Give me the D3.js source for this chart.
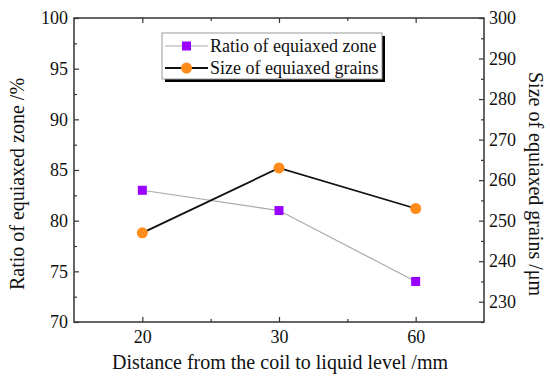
<!DOCTYPE html>
<html>
<head>
<meta charset="utf-8">
<script src="https://cdn.jsdelivr.net/npm/d3@7"></script>
<style>
  body { margin: 0; background: #fff; }
</style>
</head>
<body>
<svg id="chart"></svg>
<script>
// data
const distances = ["20", "30", "60"];
const ratioZone = [83, 81, 74];          // left axis, %
const grainSize = [247, 263, 253];       // right axis, um
const leftTicks = [70, 75, 80, 85, 90, 95, 100];
const rightTicks = [230, 240, 250, 260, 270, 280, 290, 300];

const width = 550, height = 379;
const plotL = 74, plotR = 484, plotT = 18, plotB = 322;
const serif = "'Times New Roman', 'Liberation Serif', Tinos, 'DejaVu Serif', serif";

const svg = d3.select("#chart").attr("width", width).attr("height", height);

const x = d3.scaleLinear().domain([0.5, 3.5]).range([plotL, plotR]);
const yL = d3.scaleLinear().domain([70, 100]).range([plotB, plotT]);
const yR = d3.scaleLinear().domain([225, 300]).range([plotB, plotT]);

const axisColor = "#333";

// frame
svg.append("rect")
  .attr("x", plotL).attr("y", plotT)
  .attr("width", plotR - plotL).attr("height", plotB - plotT)
  .attr("fill", "none").attr("stroke", axisColor).attr("stroke-width", 1.5);

// left axis (ticks inward)
const gL = svg.append("g").attr("transform", `translate(${plotL},0)`);
gL.call(d3.axisLeft(yL).tickValues(d3.range(70, 100.1, 2.5)).tickSize(-5).tickPadding(6)
  .tickFormat(d => leftTicks.includes(d) ? d : ""));
gL.selectAll(".tick line").attr("x2", d => leftTicks.includes(d) ? 5 : 3);

// right axis
const gR = svg.append("g").attr("transform", `translate(${plotR},0)`);
gR.call(d3.axisRight(yR).tickValues(d3.range(225, 300.1, 5)).tickSize(-5).tickPadding(5)
  .tickFormat(d => rightTicks.includes(d) ? d : ""));
gR.selectAll(".tick line").attr("x2", d => rightTicks.includes(d) ? -5 : -3);

// bottom axis
const xTicks = [1, 1.5, 2, 2.5, 3];
const gB = svg.append("g").attr("transform", `translate(0,${plotB})`);
gB.call(d3.axisBottom(x).tickValues(xTicks).tickSize(-5).tickPadding(8)
  .tickFormat(d => Number.isInteger(d) ? distances[d - 1] : ""));
gB.selectAll(".tick line").attr("y2", d => Number.isInteger(d) ? -5 : -3);

// top axis, ticks only
const gT = svg.append("g").attr("transform", `translate(0,${plotT})`);
gT.call(d3.axisTop(x).tickValues(xTicks).tickSize(-5).tickFormat(""));
gT.selectAll(".tick line").attr("y2", d => Number.isInteger(d) ? 5 : 3);

[gL, gR, gB, gT].forEach(g => {
  g.attr("font-family", serif).attr("font-size", 18);
  g.select(".domain").remove();
  g.selectAll(".tick line").attr("stroke", axisColor).attr("stroke-width", 1.2);
  g.selectAll(".tick text").attr("fill", "#111");
});

// axis titles
const titles = svg.append("g").attr("font-family", serif).attr("font-size", 20).attr("fill", "#111");
titles.append("text")
  .attr("transform", "translate(24,184) rotate(-90)")
  .attr("text-anchor", "middle")
  .text("Ratio of equiaxed zone /%");
titles.append("text")
  .attr("transform", "translate(529,184) rotate(90)")
  .attr("text-anchor", "middle")
  .text("Size of equiaxed grains /μm");
titles.append("text")
  .attr("x", 280).attr("y", 369)
  .attr("text-anchor", "middle")
  .text("Distance from the coil to liquid level /mm");

// lines
const purple = "#9900ff", orange = "#ff8c1a";
const lineL = d3.line().x((d, i) => x(i + 1)).y(d => yL(d));
const lineR = d3.line().x((d, i) => x(i + 1)).y(d => yR(d));

svg.append("path").datum(ratioZone).attr("d", lineL)
  .attr("fill", "none").attr("stroke", "#aaa").attr("stroke-width", 1.2);
svg.append("path").datum(grainSize).attr("d", lineR)
  .attr("fill", "none").attr("stroke", "#111").attr("stroke-width", 1.8);

svg.selectAll(".sq").data(ratioZone).enter().append("rect")
  .attr("x", (d, i) => x(i + 1) - 4.5).attr("y", d => yL(d) - 4.5)
  .attr("width", 9).attr("height", 9).attr("fill", purple);
svg.selectAll(".ci").data(grainSize).enter().append("circle")
  .attr("cx", (d, i) => x(i + 1)).attr("cy", d => yR(d))
  .attr("r", 5.5).attr("fill", orange);

// legend
const lg = svg.append("g").attr("font-family", serif).attr("font-size", 18).attr("fill", "#111");
lg.append("rect").attr("x", 165).attr("y", 36).attr("width", 220).attr("height", 46).attr("fill", "#000");
lg.append("rect").attr("x", 162).attr("y", 33).attr("width", 220).attr("height", 46)
  .attr("fill", "#fff").attr("stroke", "#999").attr("stroke-width", 1);
lg.append("line").attr("x1", 165).attr("x2", 208).attr("y1", 46).attr("y2", 46)
  .attr("stroke", "#aaa").attr("stroke-width", 1.2);
lg.append("rect").attr("x", 182).attr("y", 41.5).attr("width", 9).attr("height", 9).attr("fill", purple);
lg.append("line").attr("x1", 165).attr("x2", 208).attr("y1", 68).attr("y2", 68)
  .attr("stroke", "#111").attr("stroke-width", 1.8);
lg.append("circle").attr("cx", 186.5).attr("cy", 68).attr("r", 5.5).attr("fill", orange);
lg.append("text").attr("x", 210).attr("y", 51.5).text("Ratio of equiaxed zone");
lg.append("text").attr("x", 210).attr("y", 73.5).text("Size of equiaxed grains");
</script>
</body>
</html>
